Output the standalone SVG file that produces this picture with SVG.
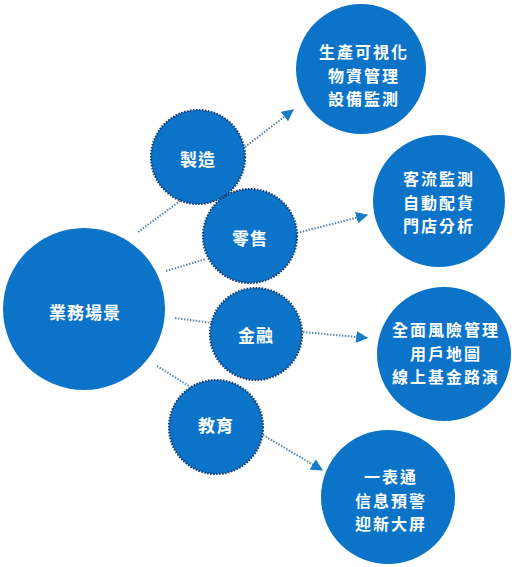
<svg xmlns="http://www.w3.org/2000/svg" width="512" height="567" viewBox="0 0 512 567">
<defs>
<style>
.big{fill:#0b74c9;}
.mid{fill:#0b74c9;stroke:#173f73;stroke-width:2.2;stroke-dasharray:1.6 1.4;}
.conn{stroke:#5b86a6;stroke-width:2;stroke-dasharray:1.5 1.5;fill:none;}
.t{font-family:"Noto Sans CJK TC","Noto Sans CJK SC",sans-serif;font-weight:bold;font-size:17px;fill:#ffffff;text-anchor:middle;dominant-baseline:central;letter-spacing:1px;}
.s{font-size:16px;letter-spacing:2px;}
</style>
<marker id="arr" viewBox="0 0 10 10" refX="9" refY="5" markerWidth="12" markerHeight="12" markerUnits="userSpaceOnUse" orient="auto">
<path d="M0,0 L10,5 L0,10 z" fill="#1a7cc4"/>
</marker>
</defs>
<rect width="512" height="567" fill="#ffffff"/>
<g id="connectors">
<line class="conn" x1="138" y1="232" x2="180" y2="201"/>
<line class="conn" x1="166" y1="271" x2="206" y2="259"/>
<line class="conn" x1="175" y1="318" x2="212" y2="323"/>
<line class="conn" x1="157" y1="366" x2="192" y2="388"/>
<line class="conn" x1="245" y1="147" x2="293" y2="110" marker-end="url(#arr)"/>
<line class="conn" x1="297" y1="233" x2="367" y2="215" marker-end="url(#arr)"/>
<line class="conn" x1="303" y1="332" x2="367" y2="338" marker-end="url(#arr)"/>
<line class="conn" x1="263" y1="435" x2="322" y2="470" marker-end="url(#arr)"/>
</g>
<g id="n-main">
<circle class="big" cx="84" cy="309" r="81"/>
<text class="t" x="85" y="311">業務場景</text>
</g>
<g id="n-manu">
<circle class="mid" cx="198" cy="157" r="47"/>
<text class="t" x="198" y="158">製造</text>
</g>
<g id="n-retail">
<circle class="mid" cx="250" cy="236" r="47"/>
<text class="t" x="250" y="237">零售</text>
</g>
<g id="n-fin">
<circle class="mid" cx="256" cy="334" r="46"/>
<text class="t" x="256" y="334">金融</text>
</g>
<g id="n-edu">
<circle class="mid" cx="216" cy="427" r="47"/>
<text class="t" x="216" y="424">教育</text>
</g>
<g id="r-manu">
<circle class="big" cx="361" cy="69" r="65"/>
<text class="t s" x="364" y="51">生產可視化</text>
<text class="t s" x="364" y="74.5">物資管理</text>
<text class="t s" x="364" y="98">設備監測</text>
</g>
<g id="r-retail">
<circle class="big" cx="439" cy="201" r="66"/>
<text class="t s" x="439" y="178">客流監測</text>
<text class="t s" x="439" y="201.5">自動配貨</text>
<text class="t s" x="439" y="225">門店分析</text>
</g>
<g id="r-fin">
<circle class="big" cx="444" cy="354" r="67"/>
<text class="t s" x="446" y="329">全面風險管理</text>
<text class="t s" x="446" y="352.5">用戶地圖</text>
<text class="t s" x="446" y="376">線上基金路演</text>
</g>
<g id="r-edu">
<circle class="big" cx="388" cy="497" r="67"/>
<text class="t s" x="391" y="476">一表通</text>
<text class="t s" x="391" y="499.5">信息預警</text>
<text class="t s" x="391" y="523">迎新大屏</text>
</g>
</svg>
